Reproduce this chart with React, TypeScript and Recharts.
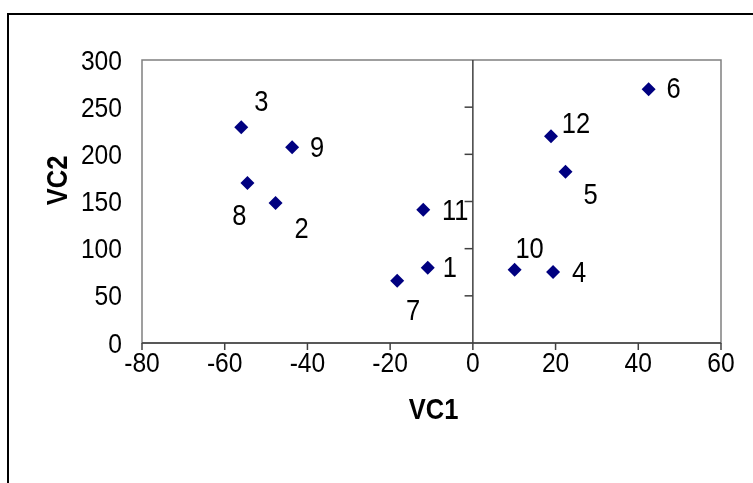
import {
  ReferenceArea,
  ReferenceLine,
  Scatter,
  ScatterChart,
  XAxis,
  YAxis,
} from 'recharts';

const pointNames = ['1', '2', '3', '4', '5', '6', '7', '8', '9', '10', '11', '12'];
const vc1Values = [-10.9, -47.7, -56.0, 19.4, 22.4, 42.5, -18.3, -54.5, -43.7, 10.1, -12.0, 18.9];
const vc2Values = [79.8, 148.3, 228.8, 75.2, 181.5, 269.1, 66.0, 169.5, 207.6, 77.6, 141.2, 219.3];

const xTicks = [-80, -60, -40, -20, 0, 20, 40, 60];
const yTicks = [0, 50, 100, 150, 200, 250, 300];

// where each number label sits relative to its marker (px)
const labelOffsets: Record<string, [number, number]> = {
  '1': [22, -1],
  '2': [26, 25],
  '3': [20, -26],
  '4': [26, 0],
  '5': [25, 22],
  '6': [25, -1],
  '7': [16, 29],
  '8': [-8, 32],
  '9': [25, 0],
  '10': [15, -22],
  '11': [32, 0],
  '12': [25, -13],
};

const points = pointNames.map((name, i) => ({ name, vc1: vc1Values[i], vc2: vc2Values[i] }));

const FONT = '"Liberation Sans", Arial, sans-serif';
const SQUEEZE = 0.88;

// text a bit narrower than plain Arial, like the original export
function NarrowText({ x, y, anchor, baseline, size, bold, children }: any) {
  return (
    <text
      transform={`translate(${x}, ${y}) scale(${SQUEEZE}, 1)`}
      textAnchor={anchor}
      dominantBaseline={baseline}
      fontFamily={FONT}
      fontSize={size}
      fontWeight={bold ? 'bold' : 'normal'}
      fill="#000"
    >
      {children}
    </text>
  );
}

function XTick({ x, y, payload }: any) {
  return (
    <NarrowText x={x} y={y} anchor="middle" baseline="hanging" size={28}>
      {payload.value}
    </NarrowText>
  );
}

function YTick({ x, y, payload }: any) {
  return (
    <NarrowText x={x} y={y} anchor="end" baseline="central" size={28}>
      {payload.value}
    </NarrowText>
  );
}

function DiamondWithLabel(props: any) {
  const { cx, cy, payload } = props;
  const r = 7;
  const [dx, dy] = labelOffsets[payload.name] ?? [20, 0];
  return (
    <g>
      <polygon
        points={`${cx},${cy - r} ${cx + r},${cy} ${cx},${cy + r} ${cx - r},${cy}`}
        fill="#000080"
      />
      <NarrowText x={cx + dx} y={cy + dy} anchor="middle" baseline="central" size={29}>
        {payload.name}
      </NarrowText>
    </g>
  );
}

export default function App() {
  return (
    <div style={{ position: 'relative', width: 740, height: 440 }}>
      <div
        style={{
          position: 'fixed',
          left: 7,
          top: 13,
          width: 800,
          height: 520,
          borderTop: '2px solid #000',
          borderLeft: '2px solid #000',
          boxSizing: 'border-box',
        }}
      />
      <ScatterChart
        width={740}
        height={440}
        margin={{ top: 52, right: 27, left: 0, bottom: 25 }}
        style={{ position: 'relative' }}
      >
        <ReferenceArea
          x1={-80}
          x2={60}
          y1={0}
          y2={300}
          fill="none"
          stroke="#808080"
          strokeWidth={1.5}
          ifOverflow="visible"
        />
        <XAxis
          type="number"
          dataKey="vc1"
          domain={[-80, 60]}
          ticks={xTicks}
          interval={0}
          height={80}
          tickSize={7}
          tickMargin={2}
          stroke="#404040"
          strokeWidth={1.5}
          tick={<XTick />}
          label={{
            content: ({ viewBox }: any) => (
              <NarrowText
                x={viewBox.x + viewBox.width / 2 + 2}
                y={viewBox.y + 66}
                anchor="middle"
                baseline="central"
                size={29}
                bold
              >
                VC1
              </NarrowText>
            ),
          }}
        />
        <YAxis
          type="number"
          dataKey="vc2"
          domain={[0, 300]}
          ticks={yTicks}
          interval={0}
          width={134}
          axisLine={false}
          tickLine={false}
          tickSize={0}
          tickMargin={20}
          tick={<YTick />}
          label={{
            content: ({ viewBox }: any) => {
              const cx = viewBox.x + 49;
              const cy = viewBox.y + viewBox.height / 2 - 21;
              return (
                <g transform={`rotate(-90, ${cx}, ${cy})`}>
                  <NarrowText x={cx} y={cy} anchor="middle" baseline="central" size={29} bold>
                    VC2
                  </NarrowText>
                </g>
              );
            },
          }}
        />
        <ReferenceLine x={0} stroke="#404040" strokeWidth={1.5} />
        {yTicks.slice(1, -1).map((t) => (
          <ReferenceLine
            key={t}
            segment={[
              { x: -2, y: t },
              { x: 0, y: t },
            ]}
            stroke="#404040"
            strokeWidth={1.5}
          />
        ))}
        <Scatter data={points} shape={DiamondWithLabel} isAnimationActive={false} />
      </ScatterChart>
    </div>
  );
}
